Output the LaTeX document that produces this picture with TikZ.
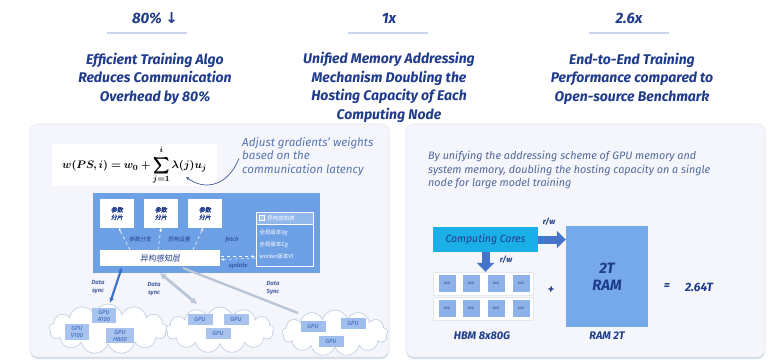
\documentclass[tikz,border=0pt]{standalone}
\usepackage{fontspec}
\usepackage{amsmath,bm}
\setmainfont{Fira Sans}
\newfontfamily\cjk[FakeSlant=0.15]{Noto Sans CJK SC}
\newfontfamily\cjkb[FakeSlant=0.15,FakeBold=1.5]{Noto Sans CJK SC}
\newfontfamily\symfont{DejaVu Sans}
\usetikzlibrary{shapes.symbols,arrows.meta}

\definecolor{navy}{HTML}{1F3C8C}
\definecolor{panelbg}{HTML}{F4F6FB}
\definecolor{panelline}{HTML}{E2E7F0}
\definecolor{panelshadow}{HTML}{D3DCEB}
\definecolor{sysblue}{HTML}{6EA0E6}
\definecolor{notetext}{HTML}{5877B3}
\definecolor{paratext}{HTML}{51699A}
\definecolor{gpufill}{HTML}{A8C3EE}
\definecolor{gputext}{HTML}{3060B8}
\definecolor{syncblue}{HTML}{3D6FD0}
\definecolor{syncgray}{HTML}{BAC6D8}
\definecolor{cloudline}{HTML}{C9D4E6}
\definecolor{corecyan}{HTML}{1AAFE6}
\definecolor{ramblue}{HTML}{76A9EA}
\definecolor{rwarrow}{HTML}{4574C8}
\definecolor{hbmcell}{HTML}{8DB2EA}
\definecolor{rulecol}{HTML}{C9D6EE}

\tikzset{
  stattxt/.style={text=navy, font=\fontsize{15bp}{18bp}\selectfont\bfseries\itshape},
  headtxt/.style={text=navy, align=center, font=\fontsize{14bp}{18.5bp}\selectfont\bfseries\itshape},
  statrule/.style={draw=rulecol, line width=1.6bp},
  panel/.style={fill=panelbg, draw=panelline, line width=0.6bp, rounded corners=8bp},
  panelshade/.style={fill=panelshadow, rounded corners=8bp},
  notetxt/.style={text=notetext, align=left, font=\fontsize{11.6bp}{13.5bp}\selectfont\itshape, inner sep=0},
  paratxt/.style={text=paratext, align=left, font=\fontsize{10.8bp}{13.5bp}\selectfont\itshape, inner sep=0},
  shardbox/.style={fill=white, minimum width=34bp, minimum height=29bp, inner sep=0, align=center,
    text=navy, font=\fontsize{6bp}{7.5bp}\selectfont\cjkb},
  tablebox/.style={draw=white, line width=0.7bp, inner sep=0},
  tabletxt/.style={text=white, font=\fontsize{5.5bp}{6bp}\selectfont\cjk, inner sep=0, anchor=west},
  smalllbl/.style={text=navy, font=\fontsize{5.5bp}{6bp}\selectfont\cjk, inner sep=0},
  flowlbl/.style={text=navy, font=\fontsize{6bp}{7bp}\selectfont\itshape, inner sep=0},
  dasharrow/.style={draw=white, dashed, line width=0.6bp, -{Stealth[length=3bp,width=3bp]}},
  synclbl/.style={text=navy!80, align=center, font=\fontsize{6bp}{7.5bp}\selectfont\bfseries\itshape, inner sep=0},
  gpucloud/.style={cloud, cloud puffs=13, cloud ignores aspect, fill=white, draw=cloudline, line width=0.8bp},
  gpubox/.style={fill=gpufill, text=gputext, align=center, inner sep=0, minimum width=25bp, minimum height=11bp,
    font=\fontsize{6bp}{7bp}\selectfont\itshape},
  bigtxt/.style={text=navy, font=\fontsize{12bp}{14bp}\selectfont\bfseries\itshape},
  hbmstrip/.style={fill=white, draw=panelline, minimum width=100bp, minimum height=23bp, inner sep=0},
  hbmcellbox/.style={fill=hbmcell, minimum width=17bp, minimum height=17bp, inner sep=0,
    text=navy, font=\fontsize{3.5bp}{4bp}\selectfont\itshape},
  blockarrow/.style={draw=rwarrow, line width=8bp, -{Triangle[length=9bp,width=17bp]}},
}

\begin{document}
\begin{tikzpicture}[x=1bp,y=-1bp]
\useasboundingbox[fill=white] (0,0) rectangle (777,362);

% ---- headline figures ----
\node[stattxt] (s1) at (155,18) {80\% {\symfont\bfseries ↓}};
\node[stattxt] (s2) at (389,18) {1x};
\node[stattxt] (s3) at (629,18) {2.6x};
\draw[statrule] (107,33) -- (187,33);
\draw[statrule] (348,33) -- (428,33);
\draw[statrule] (589,33) -- (669,33);

\node[headtxt] (h1) at (155,78.5) {Efficient Training Algo\\Reduces Communication\\Overhead by 80\%};
\node[headtxt] (h2) at (389,87.5) {Unified Memory Addressing\\Mechanism Doubling the\\Hosting Capacity of Each\\Computing Node};
\node[headtxt] (h3) at (632,78.5) {End-to-End Training\\Performance compared to\\Open-source Benchmark};

% ---- panels ----
\fill[panelshade] (30,126) rectangle (389,359);
\draw[panel] (30,124) rectangle (389,357);
\fill[panelshade] (406,126) rectangle (765,359);
\draw[panel] (406,124) rectangle (765,357);

% ---- left panel: formula and note ----
\node[fill=white, minimum width=165bp, minimum height=42bp, inner sep=0] (formula) at (134.5,165)
  {\fontsize{11bp}{14bp}\selectfont
  $\displaystyle \bm{w(PS,i) = w_0 + \sum_{j=1}^{\raisebox{2.5bp}{$\scriptstyle\bm{i}$}}\lambda(j)u_j}$};
\node[notetxt, anchor=north west] (note) at (242,137) {Adjust gradients' weights\\based on the\\communication latency};
\coordinate (lam) at (186,177);
\draw[draw=navy!85, line width=0.7bp, -{Stealth[length=4bp,width=3.5bp]}]
  ([xshift=-3bp,yshift=-2bp]note.west) .. controls (228,186) and (205,191) .. (lam);

% ---- left panel: parameter server block ----
\node[fill=sysblue, minimum width=227bp, minimum height=80bp, inner sep=0] (sys) at (206.5,233) {};
\node[shardbox] (sh1) at (117,213.5) {参数\\分片};
\node[shardbox] (sh2) at (161,213.5) {参数\\分片};
\node[shardbox] (sh3) at (205,213.5) {参数\\分片};

\node[tablebox, minimum width=57bp, minimum height=12bp, fill=white!25!sysblue] (thead) at (284.5,218) {};
\node[tablebox, minimum width=57bp, minimum height=42bp] (tbody) at (284.5,245) {};
\draw[white, line width=0.5bp, fill=white!40!sysblue] (259.5,215.5) rectangle (264,220);
\node[tabletxt] (tht) at (267,218) {异构感知表};
\node[tabletxt] (tr1) at (259,233) {全局版本Vg};
\node[tabletxt] (tr2) at (259,244.5) {全局版本Cg};
\node[tabletxt] (tr3) at (259,256) {\itshape worker\cjk 版本Vl};

\node[fill=white, minimum width=120bp, minimum height=16bp, inner sep=0,
  text=navy, font=\fontsize{8bp}{8.5bp}\selectfont\cjk] (layer) at (160,258) {异构感知层};

\draw[dasharrow] ([xshift=-30bp]layer.north) -- ([xshift=2bp]sh1.south);
\draw[dasharrow] ([xshift=-2bp]layer.north) -- (sh2.south);
\draw[dasharrow] ([xshift=33bp]layer.north) -- ([xshift=-2bp]sh3.south);
\node[smalllbl] at (140,239) {参数分发};
\node[smalllbl] at (179,239) {异构设置};

\draw[dasharrow] ([yshift=-13bp]tbody.west) -- ([xshift=1bp,yshift=-1.5bp]layer.east);
\draw[dasharrow] ([xshift=1bp,yshift=1.5bp]layer.east) -- ([xshift=-1bp,yshift=1.5bp]layer.east -| tbody.west);
\node[flowlbl] at (232,239.5) {fetch};
\node[flowlbl] at (238,265.5) {update};

% ---- left panel: GPU clusters ----
\node[gpucloud, minimum width=118bp, minimum height=50bp] (c1) at (108,329) {};
\node[gpucloud, minimum width=108bp, minimum height=46bp] (c2) at (220,330) {};
\node[gpucloud, minimum width=106bp, minimum height=46bp] (c3) at (335,333) {};

\node[gpubox, minimum width=24bp, minimum height=15bp] (g11) at (104,315.5) {GPU\\A100};
\node[gpubox, minimum width=24bp, minimum height=16bp] (g12) at (77,332) {GPU\\V100};
\node[gpubox, minimum width=28bp, minimum height=15bp] (g13) at (120,335.5) {GPU\\H800};
\node[gpubox] (g21) at (200,319) {GPU};
\node[gpubox] (g22) at (236,319) {GPU};
\node[gpubox] (g23) at (218,333) {GPU};
\node[gpubox, fill=gpufill!85!sysblue] (g31) at (313,326) {GPU};
\node[gpubox, fill=gpufill!85!sysblue] (g32) at (353,323) {GPU};
\node[gpubox, fill=gpufill!85!sysblue] (g33) at (331,341) {GPU};

\coordinate (d1a) at (122,267);
\coordinate (d1b) at (110,303);
\coordinate (d2a) at (160,273);
\coordinate (d2b) at (197,304);
\coordinate (d3a) at (183,268);
\coordinate (d3b) at (298,313);
\draw[syncblue, line width=2.2bp, {Latex[length=5bp,width=5bp]}-{Latex[length=5bp,width=5bp]}] (d1a) -- (d1b);
\draw[syncgray, line width=2.8bp, {Latex[length=6bp,width=7bp]}-{Latex[length=6bp,width=7bp]}] (d2a) -- (d2b);
\draw[syncgray, line width=2.4bp] (d3a) -- (d3b);
\node[synclbl] at (98,287) {Data\\sync};
\node[synclbl] at (154,289) {Data\\sync};
\node[synclbl] at (273,288) {Data\\Sync};

% ---- right panel ----
\node[paratxt, anchor=north west] (para) at (428,151) {By unifying the addressing scheme of GPU memory and\\system memory, doubling the hosting capacity on a single\\node for large model training};

\node[fill=corecyan, minimum width=105bp, minimum height=25bp, inner sep=0,
  text=navy, font=\fontsize{10.5bp}{11bp}\selectfont\itshape] (cores) at (485.5,239.5) {Computing Cores};
\node[fill=ramblue, minimum width=82bp, minimum height=101bp, inner sep=0, align=center,
  text=navy, font=\fontsize{15bp}{17bp}\selectfont\bfseries\itshape] (ram) at (607,276.5) {2T\\RAM};

\node[hbmstrip] (hbm1) at (483,283.5) {};
\node[hbmstrip] (hbm2) at (483,308.5) {};
\foreach \cx [count=\k] in {447,471,496,521}{
  \node[hbmcellbox] (ca\k) at (\cx,283.5) {80G};
  \node[hbmcellbox] (cb\k) at (\cx,308.5) {80G};
}

\draw[blockarrow] (cores.east) -- (cores.east -| ram.west);
\draw[blockarrow] (cores.south) -- (cores.south |- hbm1.north);
\node[text=navy, font=\fontsize{8bp}{9bp}\selectfont\bfseries\itshape] (rw1) at (549,222) {r/w};
\node[text=navy, font=\fontsize{8bp}{9bp}\selectfont\bfseries\itshape] (rw2) at (506,260) {r/w};

\node[bigtxt] (plus) at (551,290) {+};
\node[bigtxt] (eq) at (667,287) {=};
\node[bigtxt] (total) at (699,287) {2.64T};
\node[text=navy, font=\fontsize{11bp}{12bp}\selectfont\bfseries\itshape] (hbmlbl) at (482,336) {HBM 8x80G};
\node[text=navy, font=\fontsize{11bp}{12bp}\selectfont\bfseries\itshape] (ramlbl) at (607,336) {RAM 2T};
\end{tikzpicture}
\end{document}
